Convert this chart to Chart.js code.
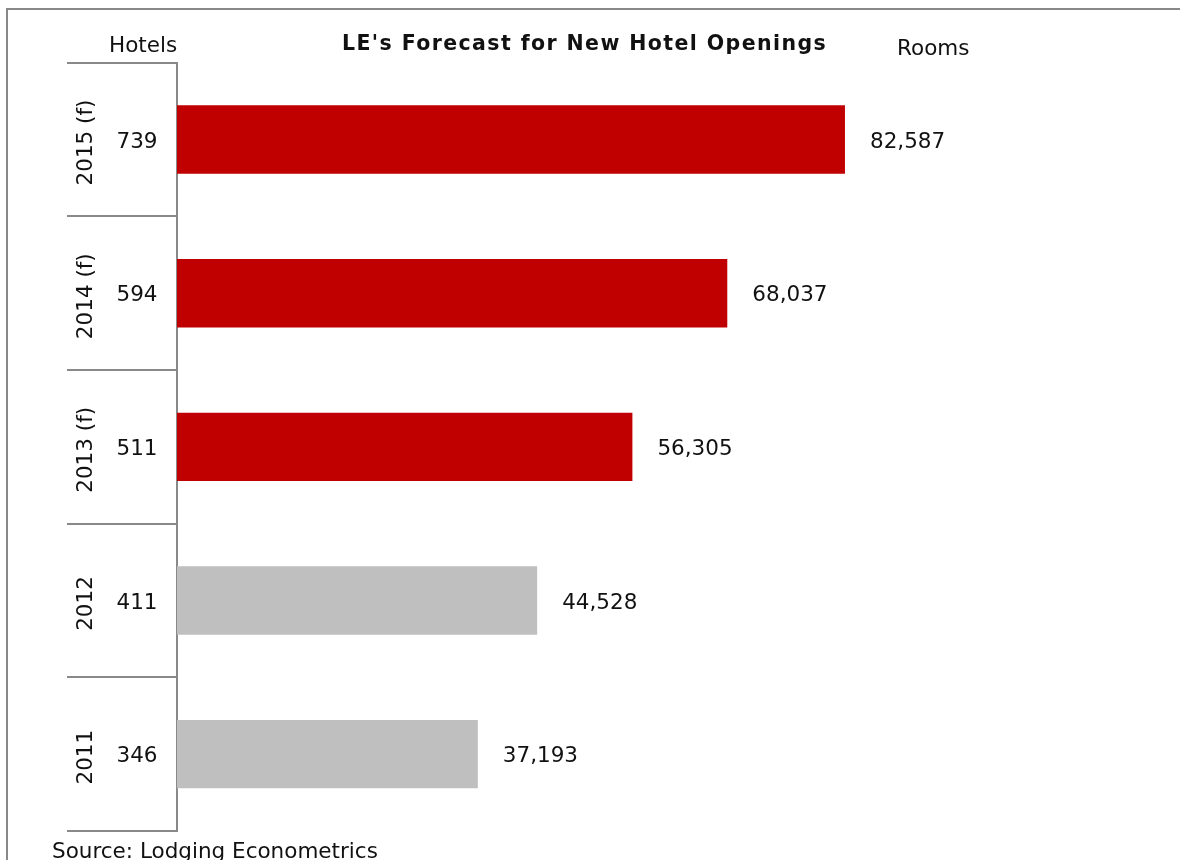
<!DOCTYPE html>
<html>
<head>
<meta charset="utf-8">
<script src="https://cdn.jsdelivr.net/npm/chart.js@4.4.1/dist/chart.umd.min.js"></script>
<style>
  html, body { margin: 0; padding: 0; background: #ffffff; }
  #wrap { width: 1180px; height: 860px; position: relative; }
</style>
</head>
<body>
<div id="wrap"><canvas id="c" width="1180" height="860"></canvas></div>
<script>
// ---- data ----
const categories = ['2015 (f)', '2014 (f)', '2013 (f)', '2012', '2011'];
const rooms = [82587, 68037, 56305, 44528, 37193];
const hotels = [739, 594, 511, 411, 346];
const isForecast = [true, true, true, false, false];
const titleText = "LE's Forecast for New Hotel Openings";
const leftHeader = 'Hotels';
const rightHeader = 'Rooms';
const sourceText = 'Source: Lodging Econometrics';

// ---- styles ----
const RED = '#C00000';
const GRAY = '#BFBFBF';
const LINE = '#898989';
const TEXT = '#111111';
const FONT = '"DejaVu Sans", Verdana, sans-serif';

const fmt = v => v.toLocaleString('en-US');

const textPlugin = {
  id: 'textPlugin',
  beforeDraw(chart) {
    const ctx = chart.ctx;
    ctx.save();
    ctx.fillStyle = '#ffffff';
    ctx.fillRect(0, 0, chart.width, chart.height);
    ctx.strokeStyle = LINE;
    ctx.lineWidth = 2;
    ctx.strokeRect(7, 9, 1300, 1000);
    ctx.restore();
  },
  afterDraw(chart) {
    const ctx = chart.ctx;
    const y = chart.scales.y;
    const x = chart.scales.x;
    ctx.save();
    ctx.fillStyle = TEXT;

    // title
    ctx.font = 'bold 20.5px ' + FONT;
    ctx.textAlign = 'left';
    ctx.textBaseline = 'alphabetic';
    try { ctx.letterSpacing = '1.4px'; } catch (e) {}
    ctx.fillText(titleText, 342, 50);
    try { ctx.letterSpacing = '0px'; } catch (e) {}

    ctx.font = '21.5px ' + FONT;
    ctx.fillText(leftHeader, 109, 52);
    ctx.fillText(rightHeader, 897, 55);

    categories.forEach((cat, i) => {
      const cy = y.getPixelForValue(i);
      // rotated year label
      ctx.save();
      ctx.translate(92, cy + 3);
      ctx.rotate(-Math.PI / 2);
      ctx.textAlign = 'center';
      ctx.textBaseline = 'alphabetic';
      ctx.fillText(cat, 0, 0);
      ctx.restore();
      // hotels count
      ctx.textAlign = 'center';
      ctx.textBaseline = 'alphabetic';
      ctx.fillText(String(hotels[i]), 137, cy + 8);
      // rooms value
      ctx.textAlign = 'left';
      ctx.fillText(fmt(rooms[i]), x.getPixelForValue(rooms[i]) + 25, cy + 8);
    });

    ctx.textAlign = 'left';
    ctx.fillText(sourceText, 52, 857.5);
    ctx.restore();
  }
};

new Chart(document.getElementById('c'), {
  type: 'bar',
  data: {
    labels: categories,
    datasets: [{
      data: rooms,
      backgroundColor: isForecast.map(f => f ? RED : GRAY),
      borderWidth: 0,
      barPercentage: 0.445,
      categoryPercentage: 1.0
    }]
  },
  options: {
    indexAxis: 'y',
    responsive: false,
    animation: false,
    devicePixelRatio: 1,
    layout: { padding: { left: 67, right: 194.2, top: 62.7, bottom: 29 } },
    plugins: {
      legend: { display: false },
      tooltip: { enabled: false },
      title: { display: false }
    },
    scales: {
      x: {
        display: false,
        min: 0,
        max: 100000
      },
      y: {
        type: 'category',
        offset: true,
        ticks: { display: false },
        grid: {
          offset: true,
          drawOnChartArea: false,
          drawTicks: true,
          tickLength: 110,
          color: LINE,
          lineWidth: 2
        },
        border: { display: true, color: LINE, width: 2 }
      }
    }
  },
  plugins: [textPlugin]
});
</script>
</body>
</html>
